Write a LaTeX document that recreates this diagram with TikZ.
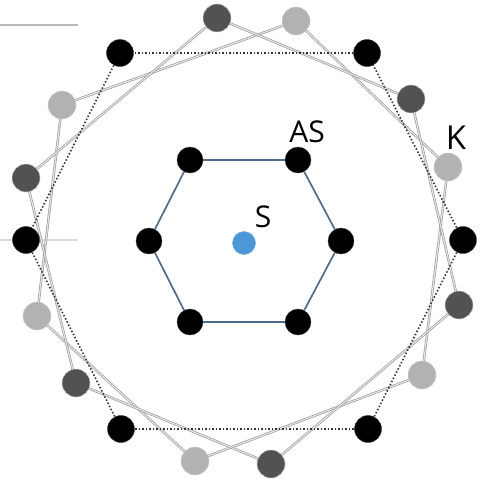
\documentclass[tikz,border=0pt]{standalone}
\usepackage{fontspec}
\setmainfont{Open Sans}
\begin{document}
\begin{tikzpicture}[x=1pt,y=-1pt,
  blk/.style={circle,fill=black,draw=black!80,line width=0.4pt,minimum size=27pt,inner sep=0pt},
  lgt/.style={circle,fill=gray!60,draw=gray!40,line width=0.5pt,minimum size=28pt,inner sep=0pt},
  drk/.style={circle,fill=black!68,draw=gray!50,line width=0.5pt,minimum size=28pt,inner sep=0pt},
  src/.style={circle,fill={rgb,255:red,74;green,152;blue,216},draw={rgb,255:red,120;green,170;blue,220},line width=0.5pt,minimum size=23pt,inner sep=0pt},
  chord/.style={draw=gray!85,double=gray!20,double distance=1.2pt,line width=0.6pt},
  bchord/.style={draw=black!80,line width=1.6pt,dash pattern=on 1.5pt off 2pt},
  hexedge/.style={draw={rgb,255:red,80;green,108;blue,140},line width=1.7pt},
  lbl/.style={font=\fontsize{30}{30}\selectfont,inner sep=0pt}]
\useasboundingbox (0,0) rectangle (481,482);
% remnant lines at the left edge
\coordinate (r1a) at (0,25); \coordinate (r1b) at (78,25);
\coordinate (r2a) at (0,240); \coordinate (r2b) at (78,240);
\draw[gray!55,line width=2.6pt] (r1a) -- (r1b);
\draw[gray!30,line width=2pt] (r2a) -- (r2b);
% outer node positions
\coordinate (B0) at (463,240); \coordinate (B60) at (367,53); \coordinate (B120) at (120,53);
\coordinate (B180) at (26,240); \coordinate (B240) at (121,429); \coordinate (B300) at (368,429);
\coordinate (L20) at (448,167); \coordinate (L77) at (296,21); \coordinate (L143) at (62,105);
\coordinate (L199) at (37,316); \coordinate (L257) at (195,461); \coordinate (L323) at (422,375);
\coordinate (D41) at (411,99); \coordinate (D97) at (217,18); \coordinate (D164) at (26,178);
\coordinate (D220) at (76,383); \coordinate (D277) at (271,464); \coordinate (D344) at (459,305);
% gray chords
\foreach \a/\b in {L20/L77,L77/L143,L143/L199,L199/L257,L257/L323,L323/L20,
                   D41/D97,D97/D164,D164/D220,D220/D277,D277/D344,D344/D41}
  \draw[chord] (\a) -- (\b);
% dotted black hexagon
\foreach \a/\b in {B0/B60,B60/B120,B120/B180,B180/B240,B240/B300,B300/B0}
  \draw[bchord] (\a) -- (\b);
% nodes
\foreach \n in {B0,B60,B120,B180,B240,B300} \node[blk] (n\n) at (\n) {};
\foreach \n in {L20,L77,L143,L199,L257,L323} \node[lgt] (n\n) at (\n) {};
\foreach \n in {D41,D97,D164,D220,D277,D344} \node[drk] (n\n) at (\n) {};
% inner hexagon
\node[blk,minimum size=26pt] (h1) at (190,160) {};
\node[blk,minimum size=26pt] (h2) at (298,160) {};
\node[blk,minimum size=26pt] (h3) at (341,241) {};
\node[blk,minimum size=26pt] (h4) at (298,322) {};
\node[blk,minimum size=26pt] (h5) at (190,322) {};
\node[blk,minimum size=26pt] (h6) at (149,241) {};
\foreach \a/\b in {h1/h2,h2/h3,h3/h4,h4/h5,h5/h6,h6/h1}
  \draw[hexedge] (\a) -- (\b);
\node[src] (s) at (244,243) {};
% labels
\node[lbl] (tAS) at (307,132) {AS};
\node[lbl,font=\fontsize{33}{33}\selectfont] (tK) at (456,138) {K};
\node[lbl] (tS) at (263,217) {S};
\end{tikzpicture}
\end{document}
